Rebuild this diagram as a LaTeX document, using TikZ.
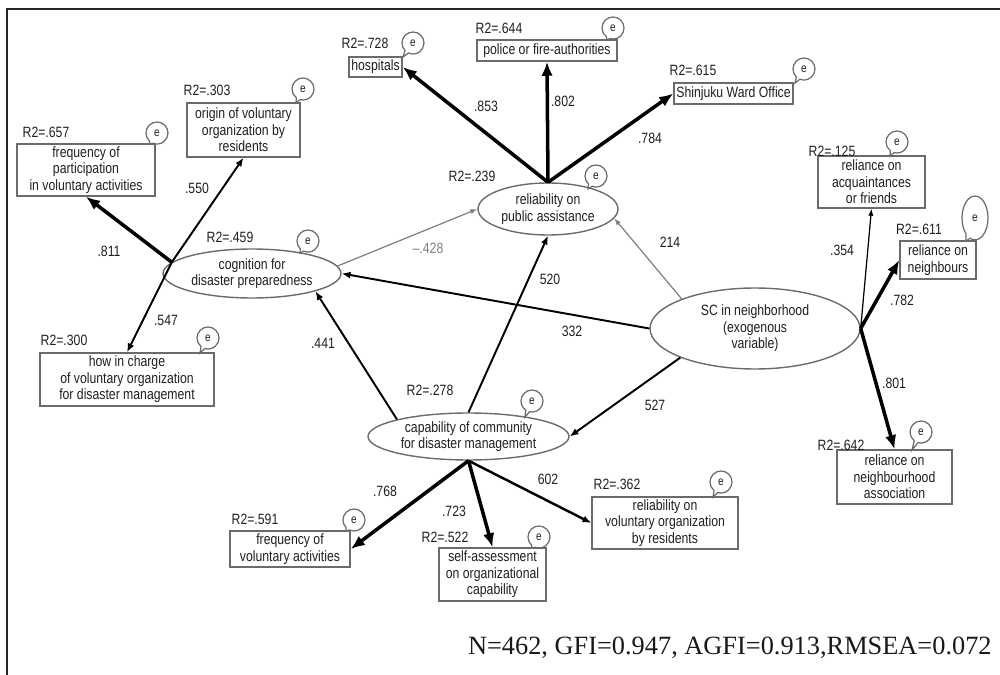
\documentclass[tikz,border=0pt]{standalone}
\usepackage{fontspec}
\setmainfont{Liberation Serif}
\newfontfamily\diagfont[FakeStretch=0.82]{Liberation Sans}
\usepackage{xcolor}
\usetikzlibrary{arrows.meta, positioning, shapes.geometric, shapes.callouts}
\definecolor{edgegray}{gray}{0.42}
\definecolor{textgray}{gray}{0.12}
\definecolor{pathgray}{gray}{0.5}

\begin{document}
\begin{tikzpicture}[x=0.02cm, y=-0.02cm,
  every node/.style={font=\diagfont\fontsize{8.5}{9.4}\selectfont, text=textgray},
  obsbox/.style={rectangle, draw=edgegray, line width=0.8pt, align=center, inner sep=1pt},
  latent/.style={ellipse, draw=edgegray, line width=0.8pt, align=center, inner sep=0pt},
  rsq/.style={inner sep=0pt},
  coef/.style={inner sep=0pt},
  errbub/.style={ellipse callout, draw=edgegray, line width=0.7pt, minimum width=0.44cm, minimum height=0.44cm, inner sep=0pt, callout pointer arc=22, font=\diagfont\fontsize{7}{8}\selectfont},
  heavy/.style={-{Latex[length=8pt,width=6.5pt]}, line width=2pt},
  medium/.style={-{Latex[length=5pt,width=4pt]}, line width=1.1pt},
  light/.style={-{Latex[length=4pt,width=3pt]}, line width=0.7pt}]
\useasboundingbox (0,0) rectangle (1000,675);
\draw[line width=1pt, black!85] (7,675) -- (7,9) -- (1000,9);

% latent variables
\node[latent, minimum width=2.8cm, minimum height=1.04cm] (relpub) at (548,209) {reliability on\\public assistance};
\node[latent, minimum width=3.56cm, minimum height=0.98cm] (cog) at (252,273.5) {cognition for\\disaster preparedness};
\node[latent, minimum width=4.02cm, minimum height=0.94cm] (cap) at (468.5,436.5) {capability of community\\for disaster management};
\node[latent, minimum width=4.2cm, minimum height=1.62cm] (sc) at (755,328.5) {SC in neighborhood\\(exogenous\\variable)};

% observed variables
\node[obsbox, minimum width=1.06cm, minimum height=0.4cm] (hosp) at (375.5,67) {hospitals};
\node[obsbox, minimum width=2.8cm, minimum height=0.42cm] (police) at (547,50.5) {police or fire-authorities};
\node[obsbox, minimum width=2.38cm, minimum height=0.42cm] (ward) at (733.5,93.5) {Shinjuku Ward Office};
\node[obsbox, minimum width=2.26cm, minimum height=1.08cm] (origin) at (243.5,130) {origin of voluntary\\organization by\\residents};
\node[obsbox, minimum width=2.76cm, minimum height=1.04cm] (freqpart) at (86,170) {frequency of\\participation\\in voluntary activities};
\node[obsbox, minimum width=3.48cm, minimum height=1.06cm] (howcharge) at (127,379.5) {how in charge\\of voluntary organization\\for disaster management};
\node[obsbox, minimum width=2.4cm, minimum height=0.72cm] (freqvol) at (290,549) {frequency of\\voluntary activities};
\node[obsbox, minimum width=2.14cm, minimum height=1.06cm] (selfass) at (492.5,574.5) {self-assessment\\on organizational\\capability};
\node[obsbox, minimum width=2.92cm, minimum height=1.04cm] (relvol) at (665,523) {reliability on\\voluntary organization\\by residents};
\node[obsbox, minimum width=2.14cm, minimum height=1.04cm] (acq) at (871.5,182) {reliance on\\acquaintances\\or friends};
\node[obsbox, minimum width=1.52cm, minimum height=0.76cm] (neigh) at (938,260) {reliance on\\neighbours};
\node[obsbox, minimum width=2.3cm, minimum height=1.08cm] (assoc) at (894.5,477) {reliance on\\neighbourhood\\association};

% paths
\coordinate (cogw) at (cog.172);
\draw[heavy] (relpub.north) -- (hosp.east);
\draw[heavy] (relpub.north) -- (police.south);
\draw[heavy] (relpub.north) -- (ward.west);
\draw[heavy] (cogw) -- (freqpart.south);
\draw[medium] (cogw) -- (origin.south);
\draw[medium] (cogw) -- (howcharge.north);
\draw[light, draw=pathgray] (cog.5) -- (relpub.west);
\draw[medium] (sc.west) -- (cog.east);
\draw[light, draw=pathgray] (sc.158) -- (relpub.-8);
\draw[medium] (cap.north west) -- (cog.south east);
\draw[medium] (cap.north) -- (relpub.south);
\draw[medium] (sc.south west) -- (cap.east);
\draw[heavy] (cap.south) -- (freqvol.east);
\draw[heavy] (cap.south) -- (selfass.north);
\draw[medium, line width=1.4pt] (cap.south) -- (relvol.west);
\draw[light] (sc.east) -- (acq.south);
\draw[heavy] (sc.east) -- (neigh.west);
\draw[heavy] (sc.east) -- (assoc.north);

% coefficients
\node[coef] (c853) at (486,106) {.853};
\node[coef] (c802) at (563,101) {.802};
\node[coef] (c784) at (650,138) {.784};
\node[coef] (c811) at (109,251) {.811};
\node[coef] (c550) at (197,188) {.550};
\node[coef] (c547) at (166,320) {.547};
\node[coef, text=pathgray] (c428) at (428,248) {–.428};
\node[coef] (c332) at (572,331) {332};
\node[coef] (c214) at (670,242) {214};
\node[coef] (c441) at (323,343) {.441};
\node[coef] (c520) at (550,279) {520};
\node[coef] (c527) at (655,405) {527};
\node[coef] (c768) at (385,491) {.768};
\node[coef] (c723) at (454,511) {.723};
\node[coef] (c602) at (548,479) {602};
\node[coef] (c354) at (842,250) {.354};
\node[coef] (c782) at (902,300) {.782};
\node[coef] (c801) at (894,383) {.801};

% squared multiple correlations
\node[rsq] (r728) at (365,43) {R2=.728};
\node[rsq] (r644) at (499,28) {R2=.644};
\node[rsq] (r615) at (693,70) {R2=.615};
\node[rsq] (r239) at (472,176) {R2=.239};
\node[rsq] (r303) at (207,90) {R2=.303};
\node[rsq] (r657) at (46,132) {R2=.657};
\node[rsq] (r459) at (230,237) {R2=.459};
\node[rsq] (r300) at (64,340) {R2=.300};
\node[rsq] (r278) at (430,390) {R2=.278};
\node[rsq] (r125) at (832,151) {R2=.125};
\node[rsq] (r611) at (919,229) {R2=.611};
\node[rsq] (r642) at (841,445) {R2=.642};
\node[rsq] (r362) at (617,484) {R2=.362};
\node[rsq] (r522) at (445,537) {R2=.522};
\node[rsq] (r591) at (255,519) {R2=.591};

% error terms
\node[errbub, callout absolute pointer={(403,57)}] (ehosp) at (413,43) {e};
\node[errbub, callout absolute pointer={(607,40)}] (epolice) at (613,28) {e};
\node[errbub, callout absolute pointer={(795,83)}] (eward) at (804,69) {e};
\node[errbub, callout absolute pointer={(588,189)}] (erelpub) at (596,176) {e};
\node[errbub, callout absolute pointer={(296,103)}] (eorigin) at (303,89) {e};
\node[errbub, callout absolute pointer={(150,144)}] (efreqpart) at (157,133) {e};
\node[errbub, callout absolute pointer={(300,253)}] (ecog) at (308,241) {e};
\node[errbub, callout absolute pointer={(200,353)}] (ehowcharge) at (208,338) {e};
\node[errbub, callout absolute pointer={(525,417)}] (ecap) at (532,401) {e};
\node[errbub, callout absolute pointer={(890,156)}] (eacq) at (897,142) {e};
\node[errbub, minimum width=0.52cm, minimum height=0.88cm, callout absolute pointer={(966,241)}] (eneigh) at (975,218) {e};
\node[errbub, callout absolute pointer={(912,450)}] (eassoc) at (921,432) {e};
\node[errbub, callout absolute pointer={(713,497)}] (erelvol) at (721,482) {e};
\node[errbub, callout absolute pointer={(532,548)}] (eselfass) at (539,537) {e};
\node[errbub, callout absolute pointer={(346,531)}] (efreqvol) at (354,520) {e};

% fit indices
\node[font=\rmfamily\fontsize{15}{17}\selectfont, text=black!90, anchor=east, inner sep=0pt] (fitnote) at (992,648) {N=462, GFI=0.947, AGFI=0.913,RMSEA=0.072};
\end{tikzpicture}
\end{document}
